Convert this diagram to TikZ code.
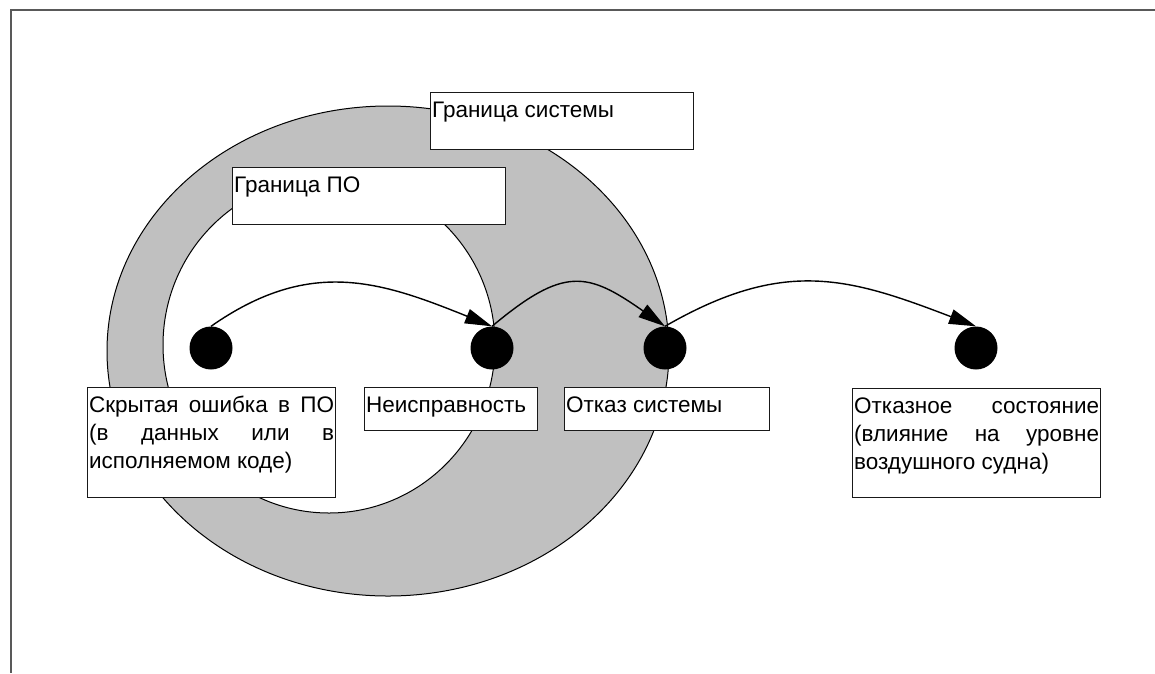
\documentclass[tikz,border=0pt]{standalone}
\usepackage{fontspec}
\setmainfont{Liberation Sans}
\usetikzlibrary{arrows.meta}
\definecolor{ringgray}{RGB}{192,192,192}

\begin{document}
\begin{tikzpicture}[
  x=1pt, y=-1pt, every node/.style={font=\fontsize{22.5}{28}\selectfont},
  lbl/.style 2 args={draw=black!90, line width=1.2pt, fill=white,
               anchor=north west, inner xsep=1.5pt, inner ysep=2pt,
               align=justify, text height=23pt, text width=#1, text depth=#2},
  pt/.style={circle, fill=black, inner sep=0pt, minimum size=43pt},
  flow/.style={-{Triangle[length=27pt,width=15pt]}, line width=1.4pt},
  zone/.style={draw=black, line width=1pt},
]
  \useasboundingbox (0,0) rectangle (1155,673);
  \draw[black!65, line width=2pt] (1155,10) -- (11,10) -- (11,673);

  % system and software boundaries
  \draw[zone, fill=ringgray] (388,351) ellipse [x radius=281pt, y radius=245pt];
  \draw[zone, fill=white] (329,345) ellipse [x radius=166pt, y radius=168pt];

  \node[lbl={260pt}{30pt}] (sysbound) at (430,92) {Граница системы};
  \node[lbl={270pt}{30pt}] (swbound) at (232,167) {Граница ПО};

  \node[pt] (latentpt) at (211,348) {};
  \node[pt] (faultpt) at (492,348) {};
  \node[pt] (sysfailpt) at (665,348) {};
  \node[pt] (statept) at (976,348) {};

  \node[lbl={245pt}{83pt}] (latent) at (87,387)
    {Скрытая ошибка в ПО\linebreak (в данных или в\linebreak исполняемом коде)};
  \node[lbl={170pt}{16pt}] (fault) at (364,387) {Неисправность};
  \node[lbl={202pt}{16pt}] (sysfail) at (564,387) {Отказ системы};
  \node[lbl={245pt}{82pt}] (state) at (852,388)
    {Отказное состояние\linebreak (влияние на уровне\linebreak воздушного судна)};

  \draw[flow] (latentpt.north) to[out=35, in=158, looseness=1.1] (faultpt.north);
  \draw[flow] (faultpt.north) to[out=40, in=145, looseness=1.4] (sysfailpt.north);
  \draw[flow] (sysfailpt.north) to[out=30, in=159, looseness=1.13] (statept.north);
\end{tikzpicture}
\end{document}
